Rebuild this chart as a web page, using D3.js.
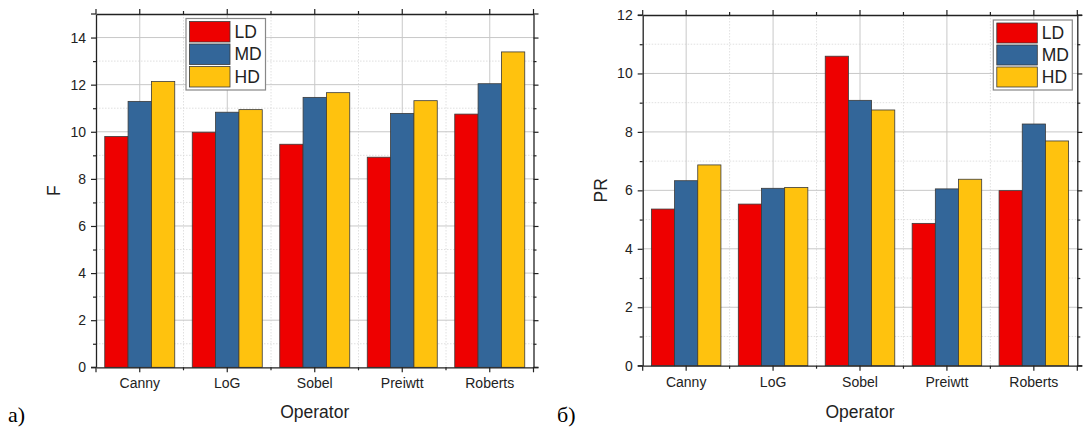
<!DOCTYPE html>
<html><head><meta charset="utf-8">
<script src="https://cdn.jsdelivr.net/npm/d3@7"></script>
<style>body{margin:0;background:#fff}svg{display:block}</style>
</head><body>
<script>
const categories = ["Canny", "LoG", "Sobel", "Preiwtt", "Roberts"];
const seriesNames = ["LD", "MD", "HD"];
const colors = ["#EE0000", "#336699", "#FFC20E"];
const fLD = [9.8, 9.98, 9.47, 8.92, 10.75];
const fMD = [11.29, 10.83, 11.46, 10.78, 12.04];
const fHD = [12.13, 10.94, 11.66, 11.32, 13.39];
const prLD = [5.36, 5.53, 10.59, 4.87, 5.99];
const prMD = [6.33, 6.07, 9.08, 6.05, 8.27];
const prHD = [6.87, 6.10, 8.75, 6.38, 7.69];
const fTicks = [0, 2, 4, 6, 8, 10, 12, 14];
const prTicks = [0, 2, 4, 6, 8, 10, 12];

const W = 1083, H = 430;
const svg = d3.select("body").append("svg").attr("width", W).attr("height", H);
const font = "'Liberation Sans', Arial, sans-serif";

function drawChart(cfg) {
  const {x0, x1, y0, y1, ymax, ticks, series, ylabel, legend, panel, panelX} = cfg;
  const g = svg.append("g");
  const x = d3.scaleBand().domain(categories).range([x0, x1]).padding(0);
  const xs = d3.scaleBand().domain(seriesNames).range([0, x.bandwidth() * 0.8]).padding(0);
  const y = d3.scaleLinear().domain([0, ymax]).range([y1, y0]);
  const minor = d3.range(1, ymax, 2);
  const bounds = categories.slice(1).map(c => x(c));

  // grid
  g.selectAll(".gmin").data(minor).join("line")
    .attr("x1", x0).attr("x2", x1).attr("y1", d => y(d)).attr("y2", d => y(d))
    .attr("stroke", "#d8d8d8").attr("stroke-width", 0.8).attr("stroke-dasharray", "1.5,1.5");
  g.selectAll(".gvmin").data(bounds).join("line")
    .attr("x1", d => d).attr("x2", d => d).attr("y1", y0).attr("y2", y1)
    .attr("stroke", "#d8d8d8").attr("stroke-width", 0.8).attr("stroke-dasharray", "1.5,1.5");
  g.selectAll(".gmaj").data(ticks.filter(t => t > 0 && t < ymax)).join("line")
    .attr("x1", x0).attr("x2", x1).attr("y1", d => y(d)).attr("y2", d => y(d))
    .attr("stroke", "#c8c8c8").attr("stroke-width", 1);
  g.selectAll(".gvmaj").data(categories).join("line")
    .attr("x1", d => x(d) + x.bandwidth() / 2).attr("x2", d => x(d) + x.bandwidth() / 2)
    .attr("y1", y0).attr("y2", y1)
    .attr("stroke", "#c8c8c8").attr("stroke-width", 1);

  // bars
  categories.forEach((c, i) => {
    seriesNames.forEach((s, j) => {
      const v = series[j][i];
      g.append("rect")
        .attr("x", x(c) + x.bandwidth() * 0.1 + xs(s))
        .attr("y", y(v))
        .attr("width", xs.bandwidth())
        .attr("height", y(0) - y(v))
        .attr("fill", colors[j])
        .attr("stroke", "#3a3a3a").attr("stroke-width", 0.8);
    });
  });

  // axes
  const axStyle = sel => {
    sel.select(".domain").attr("stroke", "#222").attr("stroke-width", 1.3);
    sel.selectAll(".tick line").attr("stroke", "#222").attr("stroke-width", 1.2);
    sel.selectAll("text").attr("font-family", font).attr("fill", "#222");
  };
  // left
  g.append("g").attr("transform", `translate(${x0},0)`)
    .call(d3.axisLeft(y).tickValues(ticks).tickSize(5).tickPadding(5).tickSizeOuter(0))
    .call(axStyle).call(s => s.selectAll("text").attr("font-size", 14));
  g.append("g").attr("transform", `translate(${x0},0)`)
    .call(d3.axisLeft(y).tickValues(minor).tickSize(3).tickFormat("").tickSizeOuter(0))
    .call(axStyle).call(s => s.select(".domain").remove());
  // right
  g.append("g").attr("transform", `translate(${x1},0)`)
    .call(d3.axisRight(y).tickValues(ticks).tickSize(5).tickFormat("").tickSizeOuter(0))
    .call(axStyle);
  g.append("g").attr("transform", `translate(${x1},0)`)
    .call(d3.axisRight(y).tickValues(minor).tickSize(3).tickFormat("").tickSizeOuter(0))
    .call(axStyle).call(s => s.select(".domain").remove());
  // bottom
  g.append("g").attr("transform", `translate(0,${y1})`)
    .call(d3.axisBottom(x).tickSize(5).tickPadding(6).tickSizeOuter(0))
    .call(axStyle).call(s => s.selectAll("text").attr("font-size", 14));
  g.selectAll(".bmin").data(bounds).join("line")
    .attr("x1", d => d).attr("x2", d => d).attr("y1", y1).attr("y2", y1 + 3)
    .attr("stroke", "#222").attr("stroke-width", 1.2);
  // top
  g.append("g").attr("transform", `translate(0,${y0})`)
    .call(d3.axisTop(x).tickSize(5).tickFormat("").tickSizeOuter(0))
    .call(axStyle);
  g.selectAll(".tmin").data(bounds).join("line")
    .attr("x1", d => d).attr("x2", d => d).attr("y1", y0).attr("y2", y0 - 3)
    .attr("stroke", "#222").attr("stroke-width", 1.2);
  // corner caps
  [[x0, y0], [x1, y0], [x0, y1], [x1, y1]].forEach(([a, b]) => {
    g.append("line").attr("x1", a).attr("x2", a).attr("y1", b).attr("y2", b === y0 ? b - 5 : b + 5)
      .attr("stroke", "#222").attr("stroke-width", 1.2);
    g.append("line").attr("x1", a).attr("x2", a === x0 ? a - 5 : a + 5).attr("y1", b).attr("y2", b)
      .attr("stroke", "#222").attr("stroke-width", 1.2);
  });

  // titles
  g.append("text").attr("transform", `translate(${cfg.ylabelX},${(y0 + y1) / 2}) rotate(-90)`)
    .attr("text-anchor", "middle").attr("dominant-baseline", "central")
    .attr("font-family", font).attr("font-size", 17.5).attr("fill", "#222").text(ylabel);
  g.append("text").attr("x", (x0 + x1) / 2).attr("y", 418)
    .attr("text-anchor", "middle").attr("font-family", font).attr("font-size", 17.5)
    .attr("fill", "#222").text("Operator");
  g.append("text").attr("x", panelX).attr("y", 422)
    .attr("font-family", "'Liberation Serif', 'Times New Roman', serif").attr("font-size", 22)
    .attr("fill", "#000").text(panel);

  // legend
  const L = legend;
  g.append("rect").attr("x", L.x).attr("y", L.y).attr("width", L.w).attr("height", L.h)
    .attr("fill", "#fff").attr("stroke", "#888").attr("stroke-width", 1.2);
  const rowH = (L.h - 4) / 3;
  seriesNames.forEach((s, j) => {
    g.append("rect").attr("x", L.x + 3.5).attr("y", L.y + 3 + j * rowH)
      .attr("width", 40.5).attr("height", rowH - 2)
      .attr("fill", colors[j]).attr("stroke", "#3a3a3a").attr("stroke-width", 0.8);
    g.append("text").attr("x", L.x + 48.5).attr("y", L.y + 3 + j * rowH + (rowH - 2) / 2)
      .attr("dominant-baseline", "central")
      .attr("font-family", font).attr("font-size", 17.5).attr("fill", "#222").text(s);
  });
}

drawChart({x0: 96, x1: 533.5, y0: 14, y1: 367.3, ymax: 15, ticks: fTicks,
  series: [fLD, fMD, fHD], ylabel: "F", ylabelX: 54,
  legend: {x: 186, y: 18.5, w: 79.5, h: 71.5}, panel: "а)", panelX: 8});
drawChart({x0: 642.7, x1: 1077.3, y0: 15, y1: 365.7, ymax: 12, ticks: prTicks,
  series: [prLD, prMD, prHD], ylabel: "PR", ylabelX: 601,
  legend: {x: 993.3, y: 20, w: 79, h: 70}, panel: "б)", panelX: 557});
</script>
</body></html>
